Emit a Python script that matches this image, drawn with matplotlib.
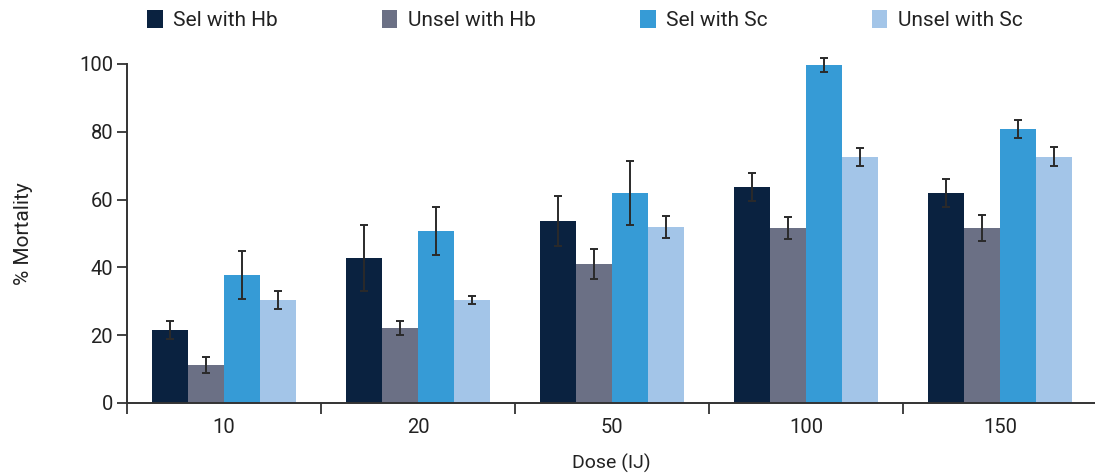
import matplotlib
matplotlib.use("Agg")
import matplotlib.pyplot as plt
import numpy as np
from matplotlib.patches import Patch

plt.rcParams['font.family'] = ['Roboto', 'DejaVu Sans']

doses = ["10", "20", "50", "100", "150"]
series_names = ["Sel with Hb", "Unsel with Hb", "Sel with Sc", "Unsel with Sc"]
sel_hb = [21.6, 42.8, 53.7, 63.7, 61.9]
sel_hb_err = [2.6, 9.7, 7.3, 4.1, 4.2]
unsel_hb = [11.2, 22.1, 41.0, 51.6, 51.6]
unsel_hb_err = [2.3, 2.1, 4.4, 3.2, 3.9]
sel_sc = [37.8, 50.7, 61.9, 99.7, 80.8]
sel_sc_err = [7.0, 7.0, 9.5, 2.0, 2.7]
unsel_sc = [30.4, 30.4, 51.9, 72.6, 72.6]
unsel_sc_err = [2.6, 1.3, 3.3, 2.6, 2.8]

values = [sel_hb, unsel_hb, sel_sc, unsel_sc]
errors = [sel_hb_err, unsel_hb_err, sel_sc_err, unsel_sc_err]
colors = ["#0a2240", "#6b7085", "#369bd6", "#a3c5e8"]

fig = plt.figure(figsize=(10.95, 4.75), dpi=100)
ax = fig.add_axes([0.116, 0.1516, 0.884, 0.7137])

x = np.arange(len(doses))
w = 0.185
for i, (v, e, c) in enumerate(zip(values, errors, colors)):
    ax.bar(x + (i - 1.5) * w, v, width=w, color=c, linewidth=0, zorder=2)
    eb = ax.errorbar(x + (i - 1.5) * w, v, yerr=e, fmt='none', ecolor='#2a2a2a',
                     elinewidth=1.4, capsize=3, capthick=1.4, zorder=3)
    for art in eb.get_children():
        art.set_clip_on(False)

ax.set_xlim(-0.5, 4.49)
ax.set_ylim(0, 100)
ax.set_yticks([0, 20, 40, 60, 80, 100])
ax.set_xticks(x)
ax.set_xticklabels(doses)
ax.set_xticks(np.arange(-0.5, 4.0, 1.0), minor=True)
ax.tick_params(axis='x', which='major', length=0, pad=11, labelsize=14.5, colors='#222222')
ax.tick_params(axis='x', which='minor', length=8, width=1.3, color='#333333', direction='out')
ax.tick_params(axis='y', which='major', length=7, width=1.3, color='#333333', pad=3,
               labelsize=14.5, labelcolor='#222222')

for s in ['top', 'right']:
    ax.spines[s].set_visible(False)
for s in ['left', 'bottom']:
    ax.spines[s].set_color('#333333')
    ax.spines[s].set_linewidth(1.4)

ax.set_ylabel("% Mortality", fontsize=15, color='#222222', labelpad=33)
ax.set_xlabel("Dose (IJ)", fontsize=14, color='#222222', labelpad=12)

handles = [Patch(facecolor=c, edgecolor='none') for c in colors]
fig.legend(handles, series_names, loc='center', bbox_to_anchor=(0.534, 0.958), ncol=4,
           frameon=False, fontsize=15, handlelength=0.75, handleheight=0.95,
           handletextpad=0.5, columnspacing=5.0, labelcolor='#222222')

fig.savefig("out.png", dpi=100)
